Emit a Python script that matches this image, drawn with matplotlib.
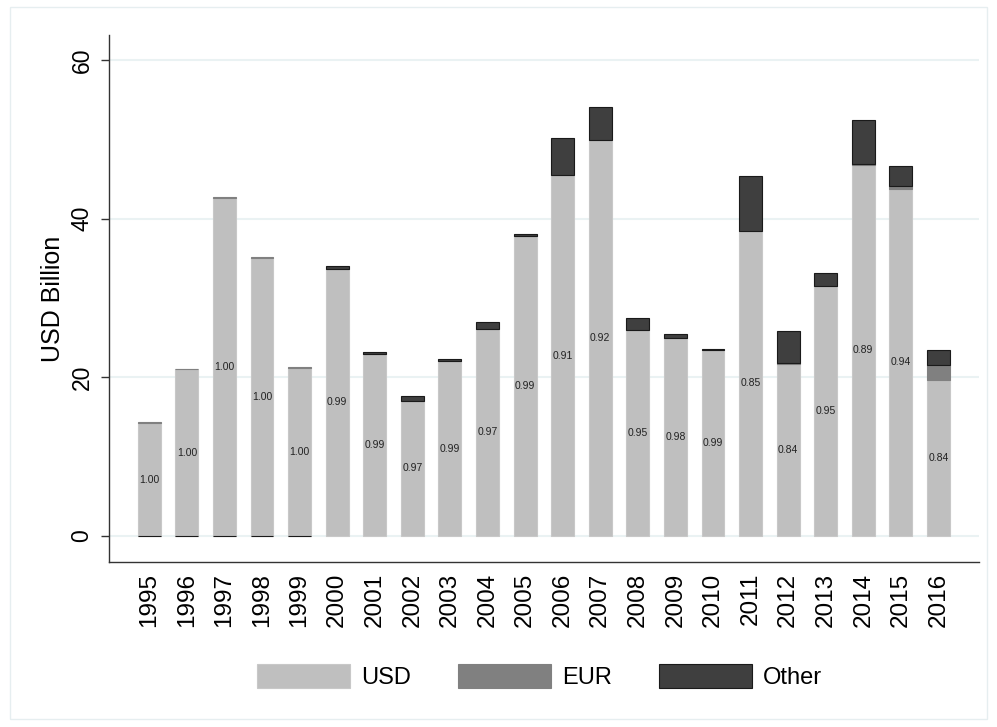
import matplotlib
matplotlib.use("Agg")
import matplotlib.pyplot as plt
import numpy as np
from matplotlib.patches import Rectangle

plt.rcParams["font.family"] = ["Liberation Sans", "DejaVu Sans"]

years = [str(y) for y in range(1995, 2017)]

# USD Billion
usd = [14.2, 21.0, 42.6, 35.1, 21.2, 33.7, 23.0, 17.0, 22.0, 26.1, 37.8,
       45.5, 49.9, 26.0, 24.9, 23.4, 38.5, 21.7, 31.5, 46.8, 43.8, 19.6]
eur = [0.1, 0.1, 0.1, 0.1, 0.1, 0.0, 0.0, 0.0, 0.0, 0.0, 0.0,
       0.0, 0.0, 0.0, 0.0, 0.0, 0.0, 0.1, 0.0, 0.1, 0.3, 1.9]
other = [-0.05, -0.05, -0.05, -0.05, -0.05, 0.3, 0.2, 0.6, 0.3, 0.9, 0.3,
         4.7, 4.2, 1.5, 0.5, 0.2, 6.9, 4.0, 1.6, 5.5, 2.5, 1.9]
usd_share = ["1.00", "1.00", "1.00", "1.00", "1.00", "0.99", "0.99", "0.97",
             "0.99", "0.97", "0.99", "0.91", "0.92", "0.95", "0.98", "0.99",
             "0.85", "0.84", "0.95", "0.89", "0.94", "0.84"]

series = [("USD", usd, "#bfbfbf", "#c8c8c8"),
          ("EUR", eur, "#808080", "#808080"),
          ("Other", other, "#3f3f3f", "#1a1a1a")]

fig = plt.figure(figsize=(9.97, 7.27), dpi=100)
fig.patch.set_facecolor("white")
fig.patches.append(Rectangle((10 / 997, 8 / 727), 977 / 997, 712 / 727,
                             transform=fig.transFigure, fill=False,
                             edgecolor="#e6eef0", linewidth=1.0))

ax = fig.add_axes([0.109, 0.227, 0.873, 0.725])

x = np.arange(len(years))
pos_base = np.zeros(len(years))
neg_base = np.zeros(len(years))
for name, vals, color, edge in series:
    vals = np.array(vals, dtype=float)
    bottoms = np.where(vals >= 0, pos_base, neg_base)
    ax.bar(x, vals, width=0.61, bottom=bottoms, color=color, edgecolor=edge,
           linewidth=0.8, label=name, zorder=3)
    pos_base = pos_base + np.clip(vals, 0, None)
    neg_base = neg_base + np.clip(vals, None, 0)

for i, lab in enumerate(usd_share):
    ax.text(x[i], usd[i] / 2, lab, ha="center", va="center", fontsize=7.5,
            color="#222222", zorder=4)

ax.set_xlim(-1.08, len(years) - 1 + 1.08)
ax.set_ylim(-3.3, 63.2)
ax.set_yticks([0, 20, 40, 60])
ax.set_yticklabels(["0", "20", "40", "60"], rotation=90, va="center", fontsize=16.5)
ax.set_xticks(x)
ax.set_xticklabels(years, rotation=90, fontsize=17.5)
ax.tick_params(axis="x", length=0, pad=8)
ax.tick_params(axis="y", length=6, width=1, pad=5, color="#333333")
ax.set_ylabel("USD Billion", fontsize=18, labelpad=4)

ax.grid(True, axis="y", color="#eaf2f3", linewidth=1.5, zorder=0)
ax.set_axisbelow(True)
for side in ["top", "right"]:
    ax.spines[side].set_visible(False)
for side in ["left", "bottom"]:
    ax.spines[side].set_color("#333333")
    ax.spines[side].set_linewidth(1.0)

fig.legend(loc="center", bbox_to_anchor=(0.541, 0.070), ncol=3, frameon=False,
           handlelength=3.95, handleheight=1.2, columnspacing=2.0,
           handletextpad=0.45, fontsize=17)

fig.savefig("out.png", dpi=100)
